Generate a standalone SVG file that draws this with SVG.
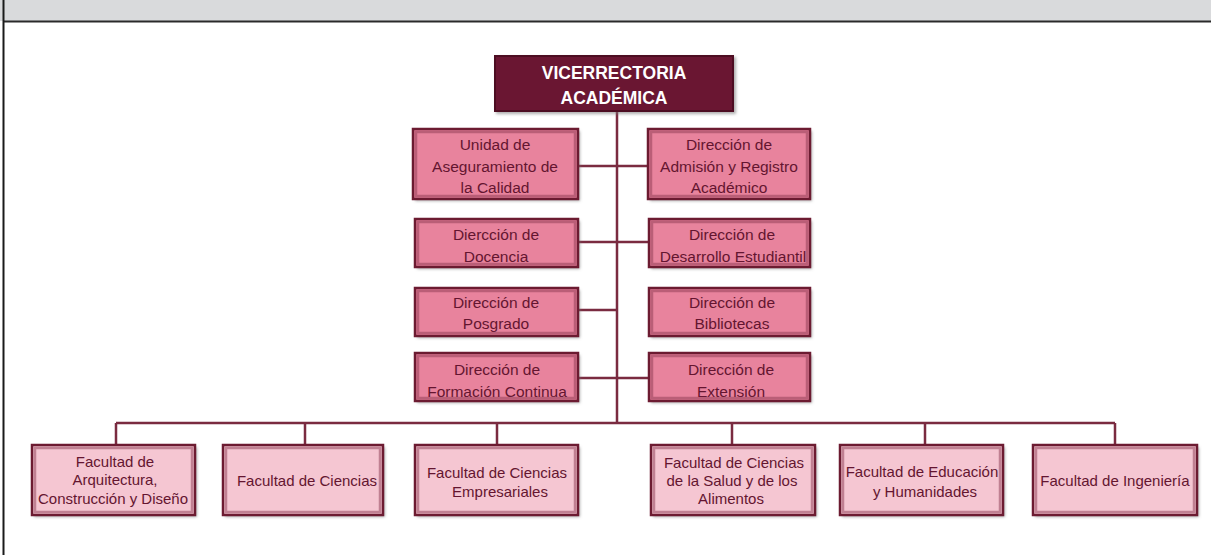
<svg xmlns="http://www.w3.org/2000/svg" width="1211" height="555" viewBox="0 0 1211 555">
<style>
.top rect.f{fill:#6a1431;stroke:#4e0d22;stroke-width:2}
.mid rect.f{fill:#e8839d}
.fac rect.f{fill:#f5c6d2}
rect.b{fill:none;stroke:#6c1b31;stroke-width:2.5}
rect.i{fill:none;stroke:#8c3a52;stroke-opacity:0.5;stroke-width:2.5}
.top text{font-family:"Liberation Sans",Arial,sans-serif;font-weight:bold;font-size:17.5px;fill:#ffffff;text-anchor:middle}
.mid text{font-family:"Liberation Sans",Arial,sans-serif;font-size:15.5px;fill:#641530;text-anchor:middle}
.fac text{font-family:"Liberation Sans",Arial,sans-serif;font-size:15px;fill:#641530;text-anchor:middle}
#connectors path{fill:none;stroke:#7a2b40;stroke-width:2.5}
</style>
<defs>
<filter id="sh" x="-10%" y="-10%" width="130%" height="140%">
<feDropShadow dx="2" dy="2" stdDeviation="1.5" flood-color="#777" flood-opacity="0.6"/>
</filter>
</defs>
<rect x="0" y="0" width="1211" height="555" fill="#ffffff"/>
<rect x="0" y="0" width="1211" height="21" fill="#d9dadc"/>
<line x1="3" y1="21.5" x2="1211" y2="21.5" stroke="#2a2a2a" stroke-width="2"/>
<line x1="3.5" y1="0" x2="3.5" y2="555" stroke="#1a1a1a" stroke-width="2"/>

<g id="connectors">
<path d="M617 111V423"/>
<path d="M578 166H648"/>
<path d="M578 242H649"/>
<path d="M578 310H617"/>
<path d="M578 378H649"/>
<path d="M116 423H1115"/>
<path d="M116 423V445M305 423V445M497 423V445M732 423V445M925 423V445M1115 423V445"/>
</g>

<g id="vicerrectoria" class="top">
<rect class="f" x="495" y="56" width="238" height="55" filter="url(#sh)"/>
<text x="614" y="79">VICERRECTORIA</text>
<text x="614" y="104">ACADÉMICA</text>
</g>

<g id="aseguramiento" class="mid">
<rect class="f" x="413" y="129" width="165" height="70" filter="url(#sh)"/>
<text x="495" y="149.5">Unidad de</text>
<text x="495" y="171.5">Aseguramiento de</text>
<text x="495" y="192.5">la Calidad</text>
<rect class="i" x="416" y="132" width="159" height="64"/><rect class="b" x="413" y="129" width="165" height="70"/>
</g>

<g id="admision" class="mid">
<rect class="f" x="648" y="129" width="162" height="70" filter="url(#sh)"/>
<text x="729" y="149.5">Dirección de</text>
<text x="729" y="171.5">Admisión y Registro</text>
<text x="729" y="192.5">Académico</text>
<rect class="i" x="651" y="132" width="156" height="64"/><rect class="b" x="648" y="129" width="162" height="70"/>
</g>

<g id="docencia" class="mid">
<rect class="f" x="415" y="219" width="163" height="48" filter="url(#sh)"/>
<text x="496" y="239.5">Diercción de</text>
<text x="496" y="261.5">Docencia</text>
<rect class="i" x="418" y="222" width="157" height="42"/><rect class="b" x="415" y="219" width="163" height="48"/>
</g>

<g id="desarrollo" class="mid">
<rect class="f" x="649" y="219" width="161" height="48" filter="url(#sh)"/>
<text x="732" y="239.5">Dirección de</text>
<text x="733" y="261.5">Desarrollo Estudiantil</text>
<rect class="i" x="652" y="222" width="155" height="42"/><rect class="b" x="649" y="219" width="161" height="48"/>
</g>

<g id="posgrado" class="mid">
<rect class="f" x="415" y="288" width="163" height="48" filter="url(#sh)"/>
<text x="496" y="307.5">Dirección de</text>
<text x="496" y="328.5">Posgrado</text>
<rect class="i" x="418" y="291" width="157" height="42"/><rect class="b" x="415" y="288" width="163" height="48"/>
</g>

<g id="bibliotecas" class="mid">
<rect class="f" x="649" y="288" width="161" height="48" filter="url(#sh)"/>
<text x="732" y="307.5">Dirección de</text>
<text x="732" y="328.5">Bibliotecas</text>
<rect class="i" x="652" y="291" width="155" height="42"/><rect class="b" x="649" y="288" width="161" height="48"/>
</g>

<g id="formacion" class="mid">
<rect class="f" x="415" y="353" width="163" height="48" filter="url(#sh)"/>
<text x="497" y="374.5">Dirección de</text>
<text x="497" y="396.5">Formación Continua</text>
<rect class="i" x="418" y="356" width="157" height="42"/><rect class="b" x="415" y="353" width="163" height="48"/>
</g>

<g id="extension" class="mid">
<rect class="f" x="649" y="353" width="161" height="48" filter="url(#sh)"/>
<text x="731" y="374.5">Dirección de</text>
<text x="731" y="396.5">Extensión</text>
<rect class="i" x="652" y="356" width="155" height="42"/><rect class="b" x="649" y="353" width="161" height="48"/>
</g>

<g id="fac-arquitectura" class="fac">
<rect class="f" x="32" y="445" width="163" height="70" filter="url(#sh)"/>
<text x="115" y="467">Facultad de</text>
<text x="115" y="485">Arquitectura,</text>
<text x="113" y="504">Construcción y Diseño</text>
<rect class="i" x="35" y="448" width="157" height="64"/><rect class="b" x="32" y="445" width="163" height="70"/>
</g>

<g id="fac-ciencias" class="fac">
<rect class="f" x="223" y="445" width="160" height="70" filter="url(#sh)"/>
<text x="307" y="486">Facultad de Ciencias</text>
<rect class="i" x="226" y="448" width="154" height="64"/><rect class="b" x="223" y="445" width="160" height="70"/>
</g>

<g id="fac-empresariales" class="fac">
<rect class="f" x="415" y="445" width="163" height="70" filter="url(#sh)"/>
<text x="497" y="478">Facultad de Ciencias</text>
<text x="500" y="497">Empresariales</text>
<rect class="i" x="418" y="448" width="157" height="64"/><rect class="b" x="415" y="445" width="163" height="70"/>
</g>

<g id="fac-salud" class="fac">
<rect class="f" x="651" y="445" width="164" height="70" filter="url(#sh)"/>
<text x="734" y="468">Facultad de Ciencias</text>
<text x="732" y="486">de la Salud y de los</text>
<text x="731" y="504">Alimentos</text>
<rect class="i" x="654" y="448" width="158" height="64"/><rect class="b" x="651" y="445" width="164" height="70"/>
</g>

<g id="fac-educacion" class="fac">
<rect class="f" x="840" y="445" width="163" height="70" filter="url(#sh)"/>
<text x="922" y="477">Facultad de Educación</text>
<text x="925" y="497">y Humanidades</text>
<rect class="i" x="843" y="448" width="157" height="64"/><rect class="b" x="840" y="445" width="163" height="70"/>
</g>

<g id="fac-ingenieria" class="fac">
<rect class="f" x="1033" y="445" width="164" height="70" filter="url(#sh)"/>
<text x="1115" y="486">Facultad de Ingeniería</text>
<rect class="i" x="1036" y="448" width="158" height="64"/><rect class="b" x="1033" y="445" width="164" height="70"/>
</g>
</svg>
